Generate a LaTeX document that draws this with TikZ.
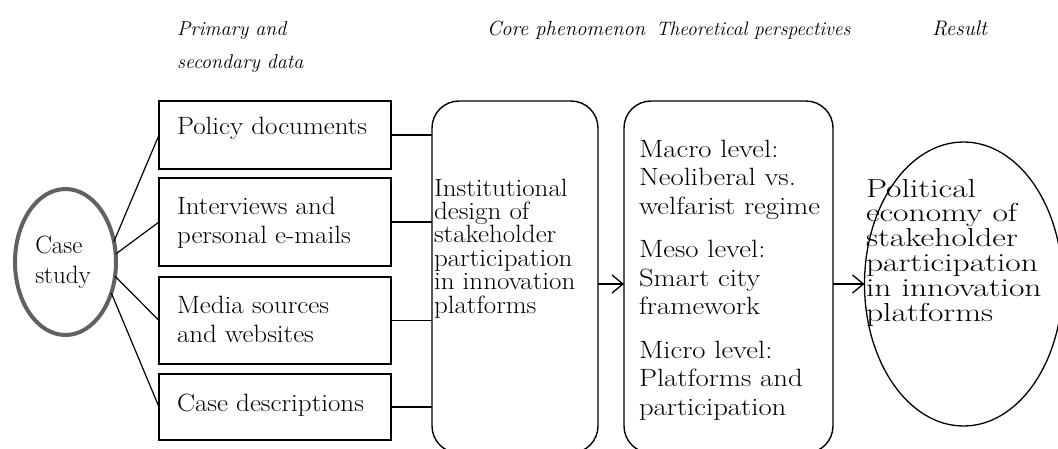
\documentclass[tikz,border=0pt]{standalone}
\usetikzlibrary{arrows.meta,shapes.geometric}
% body text: a top-aligned paragraph, widened by a horizontal factor
\newcommand{\bodypar}[5]{\scalebox{#1}[1]{\parbox[t]{#2}{\fontsize{#3}{#4}\selectfont #5}}}
\begin{document}
\begin{tikzpicture}[x=1pt,y=-1pt,
  every node/.style={inner sep=0pt,outer sep=0pt},
  head/.style={anchor=base west},
  srcbox/.style={draw,line width=1.2pt,minimum width=232pt,anchor=north west},
  roundbox/.style={draw,line width=1.4pt,rounded corners=27pt,anchor=north west},
  bodytext/.style={anchor=base west},
  link/.style={line width=1.2pt},
  flow/.style={line width=1.3pt,-{Straight Barb[length=11pt,width=18pt,line width=1.3pt]}}
]
\useasboundingbox (0,0) rectangle (1058,448);
\begin{scope}
\clip (0,0) rectangle (1058,448);

% column headings
\node[head] (h1) at (177,35) {\parbox[t]{200pt}{\fontsize{20}{33}\selectfont\itshape Primary and\\secondary data}};
\node[head] (h2) at (487,35) {\fontsize{20.5}{24}\selectfont\itshape Core phenomenon};
\node[head] (h3) at (656,35) {\fontsize{19.5}{24}\selectfont\itshape Theoretical perspectives};
\node[head] (h4) at (932,35) {\fontsize{21}{24}\selectfont\itshape Result};

% case study
\node[draw=black!62,line width=4pt,ellipse,minimum width=101pt,minimum height=146pt,
      font=\fontsize{25}{30}\selectfont,align=left] (cs) at (65.5,262) {\hspace*{-5pt}Case\\\hspace*{-5pt}study};

% data sources
\node[srcbox,minimum height=68pt] (b1) at (159,101) {};
\node[srcbox,minimum height=88pt] (b2) at (159,178) {};
\node[srcbox,minimum height=87pt] (b3) at (159,277) {};
\node[srcbox,minimum height=66pt] (b4) at (159,374) {};
\node[bodytext] (t1) at (177,134) {\bodypar{1.08}{200pt}{25}{29.5}{Policy documents}};
\node[bodytext] (t2) at (177,214) {\bodypar{1.08}{200pt}{25}{29.5}{Interviews and\\personal e-mails}};
\node[bodytext] (t3) at (177,313) {\bodypar{1.08}{200pt}{25}{29.5}{Media sources\\and websites}};
\node[bodytext] (t4) at (177,411) {\bodypar{1.08}{200pt}{25}{29.5}{Case descriptions}};

% core phenomenon
\node[roundbox,minimum width=166pt,minimum height=352pt] (core) at (432,101) {};
\node[bodytext] (tc) at (434,196) {\bodypar{1.08}{150pt}{25}{23.4}{%
  Institutional\\design of\\stakeholder\\participation\\in innovation\\platforms}};

% theoretical perspectives
\node[roundbox,minimum width=209pt,minimum height=352pt] (theo) at (624,101) {};
\node[bodytext] (tt) at (639,157) {\bodypar{1.15}{165pt}{25}{28.5}{%
  Macro level:\\Neoliberal vs.\\welfarist regime\\[15pt]
  Meso level:\\Smart city\\framework\\[15pt]
  Micro level:\\Platforms and\\participation}};

% result
\node[draw,line width=1.3pt,ellipse,minimum width=198pt,minimum height=284pt] (res) at (963.5,284) {};
\node[bodytext] (tr) at (866,197) {\bodypar{1.29}{140pt}{26}{24.9}{%
  Political\\economy of\\stakeholder\\participation\\in innovation\\platforms}};

% connectors
\draw[link] (cs.23) -- (b1.west);
\draw[link] (cs.9) -- (b2.west);
\draw[link] (cs.-16) -- (b3.west);
\draw[link] (cs.-34) -- (b4.west);
\foreach \b in {b1,b2,b3,b4}
  \draw[link] (\b.east) -- (core.west |- \b.east);
\draw[flow] (core.east |- res.center) -- (theo.west |- res.center);
\draw[flow] (theo.east |- res.center) -- (res.west);
\end{scope}
\end{tikzpicture}
\end{document}
